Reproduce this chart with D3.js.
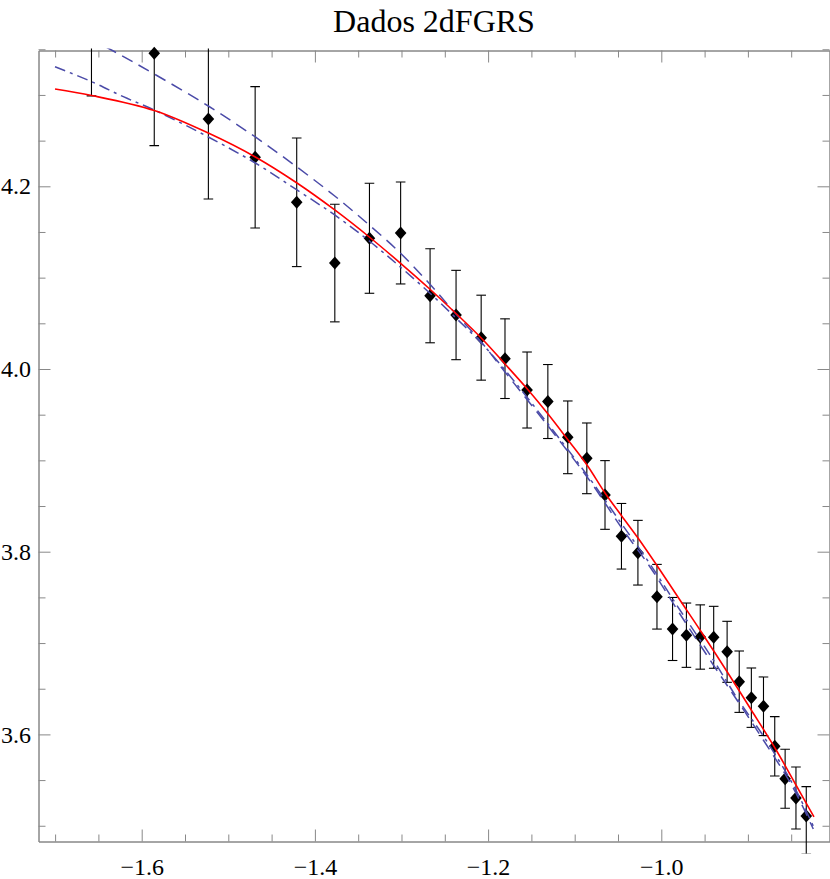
<!DOCTYPE html>
<html><head><meta charset="utf-8">
<script src="https://cdn.jsdelivr.net/npm/d3@7"></script>
<style>body{margin:0;background:#fff}svg{display:block}</style>
</head><body>
<svg id="c" width="830" height="879"></svg>
<script>
const title = "Dados 2dFGRS";
const xMajorTicks = [-1.6, -1.4, -1.2, -1.0];
const yMajorTicks = [3.6, 3.8, 4.0, 4.2];
const xMinorTicks = [-1.7, -1.65, -1.55, -1.5, -1.45, -1.35, -1.3, -1.25, -1.15, -1.1, -1.05, -0.95, -0.9, -0.85];
const yMinorTicks = [3.5, 3.55, 3.65, 3.7, 3.75, 3.85, 3.9, 3.95, 4.05, 4.1, 4.15, 4.25, 4.3, 4.35];

// data points with error bars
const pointX = [-1.658, -1.5855, -1.523, -1.469, -1.421, -1.377, -1.337, -1.301, -1.267, -1.237, -1.208, -1.1805, -1.155, -1.131, -1.108, -1.086, -1.065, -1.046, -1.027, -1.005, -0.987, -0.971, -0.955, -0.9395, -0.924, -0.910, -0.896, -0.882, -0.869, -0.857, -0.8445, -0.8326];
const pointY = [4.41, 4.3456, 4.2737, 4.2317, 4.1825, 4.1160, 4.1431, 4.1489, 4.0802, 4.0591, 4.0343, 4.0113, 3.9770, 3.9644, 3.9252, 3.9022, 3.8621, 3.8169, 3.7989, 3.7507, 3.7154, 3.7086, 3.7066, 3.7063, 3.6904, 3.6577, 3.6402, 3.6308, 3.5870, 3.5515, 3.5304, 3.5107];
const pointErrUp = [0.111, 0.1011, 0.0876, 0.0774, 0.0704, 0.0644, 0.0602, 0.0558, 0.0515, 0.0489, 0.0465, 0.0436, 0.0416, 0.0405, 0.0398, 0.0387, 0.0376, 0.0359, 0.0354, 0.0354, 0.0345, 0.0352, 0.0352, 0.0339, 0.0334, 0.0336, 0.0325, 0.0321, 0.0325, 0.0323, 0.0339, 0.0321];
const pointErrDown = [0.111, 0.1011, 0.0876, 0.0774, 0.0704, 0.0644, 0.0602, 0.0558, 0.0515, 0.0489, 0.0465, 0.0436, 0.0416, 0.0405, 0.0398, 0.0387, 0.0376, 0.0359, 0.0354, 0.0354, 0.0345, 0.0352, 0.0352, 0.0339, 0.0334, 0.0336, 0.0325, 0.0321, 0.0325, 0.0323, 0.0339, 0.0416];

// model curve 1 (red, solid)
const redX = [-1.7001, -1.6577, -1.5855, -1.5231, -1.4688, -1.4207, -1.3771, -1.3372, -1.3014, -1.2674, -1.2371, -1.2079, -1.1805, -1.1547, -1.1308, -1.1077, -1.0858, -1.0650, -1.0457, -1.0269, -1.0046, -0.9785, -0.9553, -0.9238, -0.8961, -0.8667, -0.8445, -0.8237];
const redY = [4.3065, 4.2994, 4.2830, 4.2583, 4.2321, 4.2036, 4.1741, 4.1445, 4.1160, 4.0876, 4.0608, 4.0339, 4.0055, 3.9781, 3.9507, 3.9223, 3.8949, 3.8643, 3.8391, 3.8150, 3.7843, 3.7471, 3.7143, 3.6683, 3.6267, 3.5818, 3.5446, 3.5096];

// model curve 2 (blue, dashed)
const dashX = [-1.7001, -1.6328, -1.5855, -1.5231, -1.4688, -1.4207, -1.3771, -1.3372, -1.3014, -1.2674, -1.2371, -1.2079, -1.1805, -1.1308, -1.0823, -1.0457, -1.0130, -0.9785, -0.9399, -0.9111, -0.8822, -0.8476, -0.8245];
const dashY = [4.3820, 4.3481, 4.3229, 4.2879, 4.2540, 4.2211, 4.1894, 4.1576, 4.1270, 4.0930, 4.0602, 4.0296, 3.9967, 3.9376, 3.8774, 3.8259, 3.7833, 3.7318, 3.6760, 3.6355, 3.5939, 3.5413, 3.4964];

// model curve 3 (blue, dash-dot)
const dashDotX = [-1.7001, -1.6577, -1.6212, -1.5855, -1.5231, -1.4688, -1.4207, -1.3771, -1.3372, -1.3014, -1.2674, -1.2371, -1.2079, -1.1805, -1.1308, -1.0823, -1.0457, -1.0130, -0.9785, -0.9399, -0.9111, -0.8822, -0.8476, -0.8245];
const dashDotY = [4.3309, 4.3145, 4.2981, 4.2835, 4.2540, 4.2255, 4.1960, 4.1686, 4.1401, 4.1117, 4.0832, 4.0558, 4.0285, 3.9989, 3.9398, 3.8796, 3.8303, 3.7865, 3.7362, 3.6815, 3.6377, 3.5983, 3.5446, 3.4996];

const W = 830, H = 879;
const L = 38.5, R = 829.5, T = 50.5, B = 841.5;
const x = d3.scaleLinear().domain([-1.71917, -0.80577]).range([L, R]);
const y = d3.scaleLinear().domain([3.48276, 4.34866]).range([B, T]);

const svg = d3.select("#c");
const font = "'Liberation Serif','Times New Roman',serif";
const axisColor = "#888";

svg.append("defs").append("clipPath").attr("id", "clip")
  .append("rect").attr("x", L).attr("y", T - 2).attr("width", R - L).attr("height", B - T + 14);

function styleAxis(g) {
  g.selectAll(".domain").attr("stroke", axisColor).attr("stroke-width", 1);
  g.selectAll(".tick line").attr("stroke", axisColor).attr("stroke-width", 1);
  g.selectAll("text").attr("font-family", font).attr("font-size", 24).attr("fill", "#000");
}
const fmt = d3.format(".1f");

// minor ticks
svg.append("g").attr("transform", `translate(0,${B})`)
  .call(d3.axisBottom(x).tickValues(xMinorTicks).tickSizeInner(-7).tickSizeOuter(0).tickFormat(""))
  .call(styleAxis);
svg.append("g").attr("transform", `translate(0,${T})`)
  .call(d3.axisTop(x).tickValues(xMinorTicks).tickSizeInner(-7).tickSizeOuter(0).tickFormat(""))
  .call(styleAxis);
svg.append("g").attr("transform", `translate(${L},0)`)
  .call(d3.axisLeft(y).tickValues(yMinorTicks).tickSizeInner(-7).tickSizeOuter(0).tickFormat(""))
  .call(styleAxis);
svg.append("g").attr("transform", `translate(${R},0)`)
  .call(d3.axisRight(y).tickValues(yMinorTicks).tickSizeInner(-7).tickSizeOuter(0).tickFormat(""))
  .call(styleAxis);

// major ticks
svg.append("g").attr("transform", `translate(0,${B})`)
  .call(d3.axisBottom(x).tickValues(xMajorTicks).tickSizeInner(-12).tickSizeOuter(0).tickPadding(16).tickFormat(fmt))
  .call(styleAxis);
svg.append("g").attr("transform", `translate(0,${T})`)
  .call(d3.axisTop(x).tickValues(xMajorTicks).tickSizeInner(-12).tickSizeOuter(0).tickFormat(""))
  .call(styleAxis);
svg.append("g").attr("transform", `translate(${L},0)`)
  .call(d3.axisLeft(y).tickValues(yMajorTicks).tickSizeInner(-12).tickSizeOuter(0).tickPadding(7.5).tickFormat(fmt))
  .call(styleAxis);
svg.append("g").attr("transform", `translate(${R},0)`)
  .call(d3.axisRight(y).tickValues(yMajorTicks).tickSizeInner(-12).tickSizeOuter(0).tickFormat(""))
  .call(styleAxis);

// title
svg.append("text").attr("x", (L + R) / 2).attr("y", 32).attr("text-anchor", "middle")
  .attr("font-family", font).attr("font-size", 32).attr("fill", "#000").text(title);

// points
const pts = pointX.map((v, i) => ({x: v, y: pointY[i], up: pointErrUp[i], dn: pointErrDown[i]}));
const eb = svg.append("g").attr("clip-path", "url(#clip)");
pts.forEach(p => {
  const xp = x(p.x), y1 = y(p.y + p.up), y2 = y(p.y - p.dn);
  eb.append("line").attr("x1", xp).attr("x2", xp).attr("y1", y1).attr("y2", y2)
    .attr("stroke", "#000").attr("stroke-width", 1.1);
  [y1, y2].forEach(yy => eb.append("line").attr("x1", xp - 4.8).attr("x2", xp + 4.8)
    .attr("y1", yy).attr("y2", yy).attr("stroke", "#000").attr("stroke-width", 1.1));
});
svg.append("g").selectAll("path").data(pts.filter(p => y(p.y) > T - 6))
  .join("path")
  .attr("d", p => { const xp = x(p.x), yp = y(p.y); return `M${xp},${yp - 6.5}L${xp + 5.8},${yp}L${xp},${yp + 6.5}L${xp - 5.8},${yp}Z`; })
  .attr("fill", "#000");

// curves
const lineGen = d3.line().x(d => x(d[0])).y(d => y(d[1])).curve(d3.curveCatmullRom);
const curves = svg.append("g").attr("clip-path", "url(#clip)").attr("fill", "none");
curves.append("path").attr("d", lineGen(dashX.map((v, i) => [v, dashY[i]])))
  .attr("stroke", "#4b4ba8").attr("stroke-width", 1.5).attr("stroke-dasharray", "12,7");
curves.append("path").attr("d", lineGen(dashDotX.map((v, i) => [v, dashDotY[i]])))
  .attr("stroke", "#4b4ba8").attr("stroke-width", 1.5).attr("stroke-dasharray", "11,5,3,5");
curves.append("path").attr("d", lineGen(redX.map((v, i) => [v, redY[i]])))
  .attr("stroke", "#ff0000").attr("stroke-width", 1.6);
</script>
</body></html>
